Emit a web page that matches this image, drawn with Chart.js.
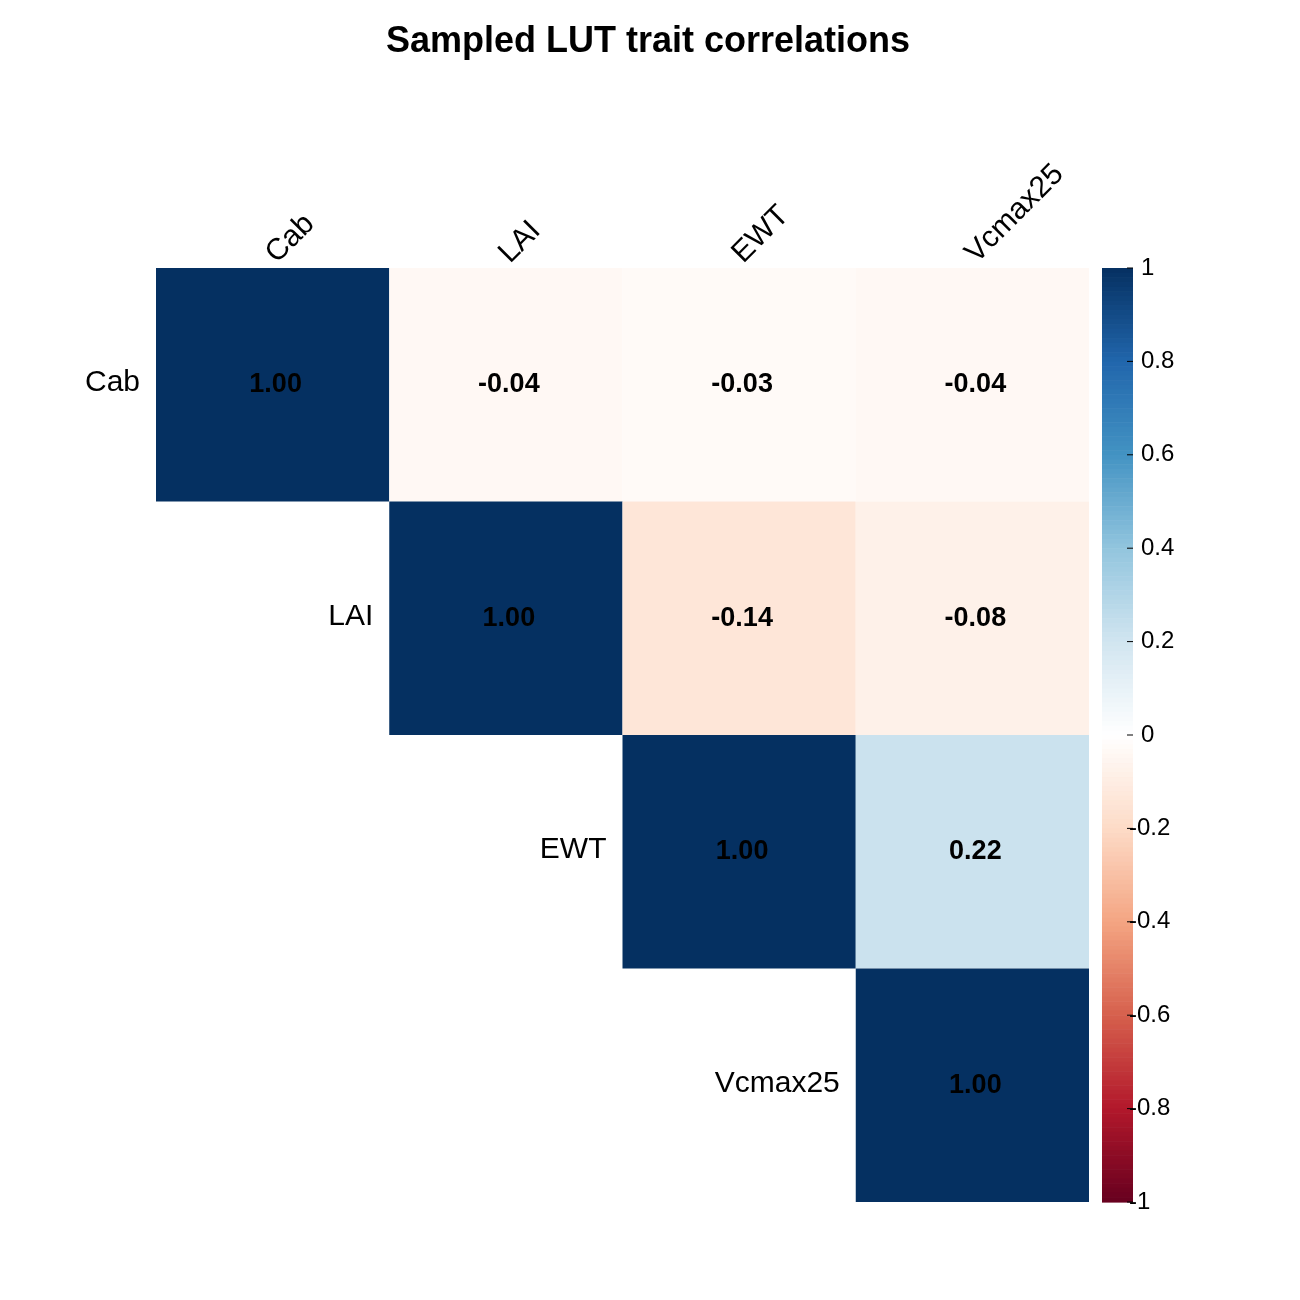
<!DOCTYPE html>
<html><head><meta charset="utf-8">
<script src="https://cdn.jsdelivr.net/npm/chart.js@4"></script>
<style>body{margin:0;background:#fff}</style>
</head><body>
<canvas id="c" width="1300" height="1300"></canvas>
<script>
const traits = ['Cab', 'LAI', 'EWT', 'Vcmax25'];
const rowCab = [1.00, -0.04, -0.03, -0.04];
const rowLAI = [null, 1.00, -0.14, -0.08];
const rowEWT = [null, null, 1.00, 0.22];
const rowVcmax = [null, null, null, 1.00];
const corrRows = [rowCab, rowLAI, rowEWT, rowVcmax];
const barTicks = [1, 0.8, 0.6, 0.4, 0.2, 0, -0.2, -0.4, -0.6, -0.8, -1];
const chartTitle = 'Sampled LUT trait correlations';

const rdbu = ['#67001F','#B2182B','#D6604D','#F4A582','#FDDBC7','#FFFFFF','#D1E5F0','#92C5DE','#4393C3','#2166AC','#053061'];
function hex(h){return [1,3,5].map(i=>parseInt(h.substr(i,2),16));}
function colorFor(v){
  const t=(v+1)/2*(rdbu.length-1);
  const i=Math.min(Math.floor(t),rdbu.length-2), f=t-i;
  const a=hex(rdbu[i]), b=hex(rdbu[i+1]);
  return 'rgb('+a.map((x,k)=>Math.round(x+(b[k]-x)*f)).join(',')+')';
}

const points = [];
corrRows.forEach((row, r) => row.forEach((v, c) => { if (v !== null) points.push({x: c + 0.5, y: r + 0.5, v}); }));

const corrPlugin = {
  id: 'corr',
  beforeDatasetsDraw(chart) {
    const {ctx, scales: {x, y}} = chart;
    ctx.save();
    ctx.fillStyle = '#000';
    ctx.font = 'bold 36px "Liberation Sans", Arial';
    ctx.textAlign = 'center'; ctx.textBaseline = 'middle';
    ctx.fillText(chartTitle, 648, 42);
    points.forEach(p => {
      const x0 = x.getPixelForValue(p.x - 0.5), x1 = x.getPixelForValue(p.x + 0.5);
      const y0 = y.getPixelForValue(p.y - 0.5), y1 = y.getPixelForValue(p.y + 0.5);
      ctx.fillStyle = colorFor(p.v);
      ctx.fillRect(x0, y0, x1 - x0, y1 - y0);
    });
    ctx.fillStyle = '#000';
    ctx.font = 'bold 27px "Liberation Sans", Arial';
    points.forEach(p => {
      ctx.fillText(p.v.toFixed(2), x.getPixelForValue(p.x) + 3, y.getPixelForValue(p.y));
    });
    // top labels
    ctx.font = '30px "Liberation Sans", Arial';
    ctx.textAlign = 'left'; ctx.textBaseline = 'alphabetic';
    traits.forEach((t, i) => {
      ctx.save();
      ctx.translate(x.getPixelForValue(i + 0.5) + 4, y.getPixelForValue(0) - 4);
      ctx.rotate(-Math.PI / 4);
      ctx.fillText(t, 0, 0);
      ctx.restore();
    });
    // row labels
    ctx.textAlign = 'right'; ctx.textBaseline = 'middle';
    traits.forEach((t, i) => {
      ctx.fillText(t, x.getPixelForValue(i) - 16, y.getPixelForValue(i + 0.5) - 2);
    });
    // colour bar
    const bx = 1102, bw = 31, by0 = y.getPixelForValue(0), by1 = y.getPixelForValue(4);
    const n = 200, h = (by1 - by0) / n;
    for (let k = 0; k < n; k++) {
      ctx.fillStyle = colorFor(1 - 2 * (k + 0.5) / n);
      ctx.fillRect(bx, by0 + k * h, bw, h + 0.6);
    }
    ctx.strokeStyle = '#000'; ctx.lineWidth = 1;
    ctx.font = '24px "Liberation Sans", Arial';
    ctx.textAlign = 'left'; ctx.fillStyle = '#000';
    barTicks.forEach(t => {
      const yy = by0 + (1 - t) / 2 * (by1 - by0);
      ctx.beginPath(); ctx.moveTo(bx + bw - 6, yy); ctx.lineTo(bx + bw, yy); ctx.stroke();
      ctx.fillText(String(t), t < 0 ? bx + bw - 4 : bx + bw + 8, yy);
    });
    ctx.restore();
  }
};

new Chart(document.getElementById('c'), {
  type: 'scatter',
  data: {datasets: [{data: points, pointRadius: 0}]},
  options: {
    responsive: false, devicePixelRatio: 1, animation: false,
    layout: {padding: {left: 156, right: 211, top: 268, bottom: 98}},
    scales: {
      x: {type: 'linear', min: 0, max: 4, display: false},
      y: {type: 'linear', min: 0, max: 4, reverse: true, display: false}
    },
    plugins: {legend: {display: false}, tooltip: {enabled: false}, title: {display: false}}
  },
  plugins: [corrPlugin]
});
</script>
</body></html>
